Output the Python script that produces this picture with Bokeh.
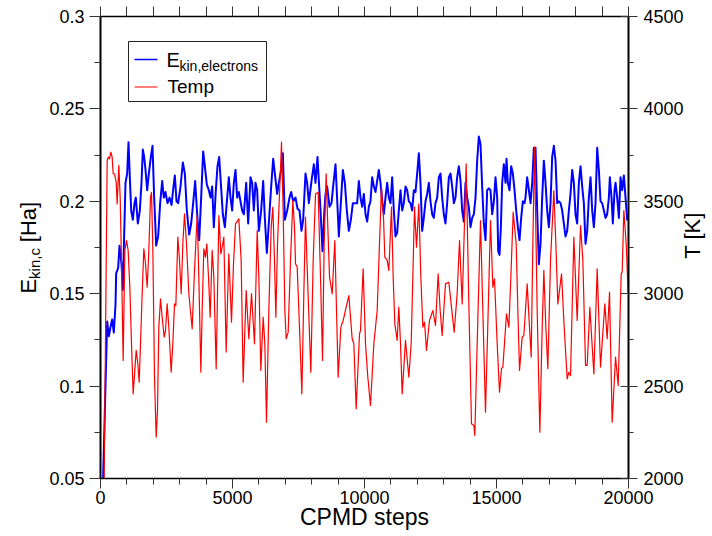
import math
from bokeh.plotting import figure
from bokeh.models import (Range1d, LinearAxis, FixedTicker, CustomJSTickFormatter,
                          Label, BoxAnnotation, Arrow)
from bokeh.embed import file_html
from bokeh.resources import INLINE

# ---------------- data ----------------
ekin_steps = [80, 253, 316, 379, 442, 505, 568, 594, 669, 720, 796, 846, 897, 947, 1010, 1061,
              1111, 1162, 1225, 1288, 1338, 1414, 1490, 1553, 1604, 1654, 1705, 1768, 1831, 1907,
              1970, 2033, 2109, 2184, 2260, 2336, 2399, 2462, 2538, 2614, 2690, 2765, 2816, 2879,
              2942, 3031, 3119, 3195, 3270, 3359, 3435, 3510, 3586, 3662, 3738, 3813, 3889, 3952,
              4028, 4104, 4167, 4230, 4293, 4369, 4432, 4495, 4558, 4634, 4710,
              4861, 4924, 4988, 5051, 5114, 5177, 5240, 5303, 5366, 5430, 5518, 5594, 5682, 5745,
              5808, 5871, 5935, 5998, 6086, 6162, 6225, 6301, 6376, 6465, 6541, 6604, 6692, 6755,
              6856, 6907, 6983, 7071, 7159, 7222, 7298, 7387, 7462, 7538, 7614, 7677, 7765, 7828,
              7892, 7993, 8081, 8144, 8220, 8271, 8334, 8410, 8473, 8523, 8586, 8675, 8750, 8826,
              8902, 8978, 9028, 9104, 9180, 9256, 9331, 9407, 9483, 9559, 9634,
              9722, 9785, 9848, 9912, 9975, 10038, 10101, 10164, 10227, 10290, 10354, 10417, 10480,
              10543, 10606, 10669, 10732, 10795, 10859, 10922, 10985, 11048, 11111, 11174, 11237,
              11300, 11364, 11427, 11490, 11553, 11616, 11679, 11742, 11805, 11869, 11932, 12007,
              12058, 12121, 12184, 12247, 12311, 12374, 12437, 12500, 12563, 12626, 12689, 12753,
              12816, 12879, 12942, 13005, 13068, 13131, 13195, 13258, 13321, 13384, 13447, 13510,
              13573, 13637, 13700, 13763, 13826, 13889, 13952, 14015, 14079, 14142, 14205, 14268,
              14331, 14394, 14457, 14520, 14584,
              14647, 14710, 14773, 14837, 14900, 14963, 15026, 15064, 15114, 15165, 15215, 15278,
              15342, 15379, 15430, 15493, 15556, 15619, 15683, 15746, 15809, 15872, 15935, 15998,
              16061, 16099, 16162, 16226, 16289, 16352, 16415, 16478, 16541, 16604, 16667, 16731,
              16794, 16857, 16920, 16983, 17046, 17109, 17173, 17236, 17299, 17362, 17425, 17488,
              17551, 17614, 17678, 17741, 17804, 17867, 17930, 17993, 18056, 18120, 18183, 18246,
              18309, 18372, 18435, 18498, 18562, 18625, 18688, 18751, 18814, 18877, 18940, 19003,
              19067, 19130, 19193, 19256, 19294, 19357, 19407, 19471, 19509, 19572, 19635, 19698,
              19761, 19824, 19887, 19951, 20000]
ekin_values = [0.040, 0.135, 0.127, 0.132, 0.136, 0.129, 0.144, 0.161, 0.164, 0.176, 0.166, 0.152,
               0.182, 0.210, 0.215, 0.232, 0.213, 0.195, 0.190, 0.199, 0.202, 0.188, 0.195, 0.210,
               0.228, 0.224, 0.217, 0.206, 0.215, 0.224, 0.230, 0.202, 0.176, 0.181, 0.199, 0.211,
               0.202, 0.205, 0.199, 0.202, 0.198, 0.208, 0.214, 0.200, 0.199, 0.208, 0.221, 0.215,
               0.195, 0.182, 0.188, 0.199, 0.211, 0.193, 0.179, 0.202, 0.227, 0.219, 0.209, 0.206,
               0.202, 0.208, 0.186, 0.206, 0.219, 0.224, 0.210, 0.193, 0.186,
               0.213, 0.202, 0.195, 0.210, 0.217, 0.202, 0.205, 0.200, 0.195, 0.193, 0.210, 0.188,
               0.213, 0.210, 0.195, 0.210, 0.206, 0.184, 0.195, 0.211, 0.191, 0.172, 0.188, 0.208,
               0.223, 0.215, 0.204, 0.210, 0.218, 0.226, 0.190, 0.195, 0.202, 0.205, 0.200, 0.202,
               0.196, 0.195, 0.184, 0.190, 0.215, 0.210, 0.199, 0.211, 0.220, 0.210, 0.224, 0.211,
               0.195, 0.173, 0.193, 0.204, 0.208, 0.197, 0.199, 0.210, 0.220, 0.197, 0.181, 0.199,
               0.217, 0.210, 0.195, 0.184, 0.190, 0.199, 0.199,
               0.199, 0.211, 0.202, 0.197, 0.204, 0.193, 0.189, 0.197, 0.200, 0.213, 0.208, 0.205,
               0.211, 0.217, 0.210, 0.200, 0.193, 0.202, 0.210, 0.202, 0.199, 0.213, 0.195, 0.181,
               0.183, 0.195, 0.206, 0.195, 0.199, 0.208, 0.206, 0.200, 0.199, 0.195, 0.206, 0.205,
               0.217, 0.226, 0.210, 0.184, 0.191, 0.200, 0.204, 0.210, 0.200, 0.193, 0.191, 0.199,
               0.202, 0.213, 0.215, 0.202, 0.193, 0.188, 0.199, 0.213, 0.215, 0.208, 0.199, 0.202,
               0.213, 0.219, 0.211, 0.195, 0.189, 0.210, 0.202, 0.197, 0.186, 0.191, 0.193, 0.202,
               0.222, 0.235, 0.231, 0.208, 0.188, 0.179,
               0.206, 0.207, 0.206, 0.193, 0.200, 0.213, 0.202, 0.173, 0.171, 0.186, 0.210, 0.220,
               0.210, 0.223, 0.210, 0.206, 0.219, 0.215, 0.206, 0.195, 0.186, 0.179, 0.191, 0.200,
               0.199, 0.202, 0.213, 0.206, 0.199, 0.210, 0.229, 0.229, 0.195, 0.166, 0.177, 0.202,
               0.222, 0.210, 0.195, 0.186, 0.199, 0.224, 0.230, 0.222, 0.199, 0.200, 0.199, 0.195,
               0.188, 0.181, 0.184, 0.195, 0.204, 0.217, 0.210, 0.193, 0.188, 0.210, 0.219, 0.208,
               0.199, 0.177, 0.184, 0.202, 0.213, 0.195, 0.186, 0.199, 0.229, 0.217, 0.200, 0.199,
               0.195, 0.191, 0.193, 0.202, 0.213, 0.202, 0.188, 0.206, 0.210, 0.202, 0.191, 0.213,
               0.206, 0.214, 0.202, 0.190, 0.190]

temp_steps = [120, 253, 290, 341, 391, 442, 480, 530, 594, 631, 694, 745, 796, 859, 922, 985, 1048,
              1111, 1174, 1237, 1300, 1351, 1414, 1465, 1515, 1578, 1642, 1705, 1768, 1831, 1894,
              1932, 1983, 2046, 2109, 2159, 2210, 2273, 2336, 2412, 2462, 2525, 2588, 2677, 2740,
              2803, 2854, 2929, 2993, 3056, 3119, 3182, 3258, 3346, 3472, 3561, 3662, 3725, 3801,
              3851, 3914, 3977, 4028, 4091, 4154, 4230, 4293, 4382, 4432, 4483, 4558, 4609, 4672,
              4760, 4861, 4962, 5038, 5114, 5240, 5328, 5404, 5518, 5619, 5720, 5834, 5935, 5998,
              6073, 6162, 6225, 6288, 6376, 6465, 6528, 6591, 6642, 6705, 6755, 6806, 6856, 6919,
              6983, 7033, 7109, 7197, 7286, 7349, 7387, 7450, 7538, 7627, 7702, 7765, 7841, 7967,
              8056, 8144, 8245, 8334, 8410, 8473, 8548, 8611, 8675, 8776, 8876, 8940, 9003, 9104,
              9192, 9306, 9407, 9533, 9596, 9685, 9811, 9848, 9949, 10038, 10126, 10227, 10354,
              10480, 10568, 10644, 10720, 10770, 10859, 10922, 11023, 11086, 11149, 11237, 11300,
              11364, 11427, 11553, 11679, 11768, 11831, 11894, 11970, 12058, 12134, 12210, 12273,
              12348, 12462, 12588, 12689, 12790, 12866, 12942, 13068, 13195, 13321, 13397, 13510,
              13599, 13700, 13851, 13952, 14053, 14142, 14179, 14268, 14394, 14482, 14584, 14685,
              14773, 14862, 14925, 15026, 15114, 15190, 15241, 15379, 15468, 15544, 15632, 15746,
              15809, 15872, 15973, 16036, 16162, 16251, 16314, 16377, 16440, 16541, 16642, 16731,
              16794, 16869, 16945, 17046, 17173, 17248, 17324, 17463, 17564, 17678, 17741, 17804,
              17930, 18056, 18183, 18271, 18372, 18435, 18536, 18688, 18814, 18940, 19104, 19193,
              19281, 19382, 19509, 19610, 19723, 19761, 19824, 19913, 19988]
temp_values = [1700, 3721, 3739, 3730, 3766, 3739, 3649, 3649, 3604, 3486, 3694, 3522, 3162, 2639,
               3234, 3288, 3234, 3035, 2729, 2458, 2585, 2693, 2621, 2521, 2729, 3000, 3243, 3162,
               3035, 3234, 3522, 3549, 3234, 2548, 2224, 2368, 2819, 2972, 2873, 2765, 2801, 2945,
               2819, 2575, 2729, 2945, 2936, 3306, 3180, 3000, 3270, 3432, 3270, 3000, 2810, 3126,
               3423, 3090, 2575, 2909, 3243, 3198, 3270, 3090, 2873, 3234, 3090, 2594, 3000, 3423,
               3216, 3252, 3306,
               2684, 3216, 2846, 3162, 3378, 3405, 3180, 2521, 3017, 2756, 3000, 2729, 3342, 3090,
               2585, 2873, 2729, 2305, 2909, 3360, 3468, 3180, 2873, 3270, 3450, 3631, 3820, 3450,
               2909, 2756, 2792, 3180, 3504, 3360, 3162, 3144, 2819, 2458, 3000, 3414, 3090, 2575,
               3180, 3540, 3549, 3090, 2639, 3270, 3649, 3360, 3090, 3000, 3288, 2909, 2548, 2819,
               2855, 2927, 2990, 2756, 2729, 2377, 2783, 2801, 3135, 2729, 2548, 2395, 2729,
               2909, 3270, 3577, 3414, 3198, 3180, 3126, 3468, 3090, 2837, 2747, 2927,
               2729, 2458, 2747, 2548, 2729, 3090, 3468, 3252, 3486, 3090, 2819, 2846,
               2693, 2855, 2909, 2828, 3108, 2909, 2774, 3053, 3062, 2891, 2792, 3000,
               3288, 2945, 3703, 2945, 2296, 2287, 2233, 2729, 3396, 2909, 2359, 2909,
               3396, 3035, 3080, 2729, 2467, 2594, 2603, 2891, 2819, 3090, 3441, 3270,
               2909, 2585, 2765, 2774, 3053, 2819, 2657, 3270, 3793, 2909, 2251, 2819,
               3126, 2819, 2594, 3180, 3558, 3270, 2945, 3108, 2819, 2539, 2575, 2557,
               3306, 2855, 3369, 3180, 2612, 2612, 2927, 2566, 3135, 2603, 2945, 2756,
               3008, 2305, 2657, 2503, 3108, 3117, 3450, 3270, 3000]

x_ticks = [0, 5000, 10000, 15000, 20000]
x_minor = [1000, 2000, 3000, 4000, 6000, 7000, 8000, 9000, 11000, 12000, 13000, 14000,
           16000, 17000, 18000, 19000]
top_ticks = [0, 1000, 2000, 3000, 4000, 5000, 6000, 7000, 8000, 9000, 10000, 11000, 12000,
             13000, 14000, 15000, 16000, 17000, 18000, 19000, 20000]
e_ticks = [0.05, 0.1, 0.15, 0.2, 0.25, 0.3]
e_minor = [0.075, 0.125, 0.175, 0.225, 0.275]
t_ticks = [2000, 2500, 3000, 3500, 4000, 4500]
t_minor = [2250, 2750, 3250, 3750, 4250]

x_title = "CPMD steps"
y_title_main = "E\u2003\u2002\u2006[Ha]"
y_title_sub = "kin,c"
y2_title = "T [K]"
legend_main = ["E", "Temp"]
legend_sub = "kin,electrons"

FONT = "Liberation Sans"

p = figure(width=712, height=536, output_backend="svg", toolbar_location=None,
           x_range=Range1d(0, 20000), y_range=Range1d(0.05, 0.3),
           x_axis_location=None, y_axis_location=None,
           min_border_left=100, min_border_right=84, min_border_top=16, min_border_bottom=58)
p.extra_y_ranges = {"temp": Range1d(2000, 4500)}
p.grid.grid_line_color = None
p.outline_line_color = None
p.background_fill_color = "white"
p.border_fill_color = "white"


def style(ax, lw):
    ax.axis_line_color = "black"
    ax.axis_line_width = lw
    ax.major_tick_line_color = "#333333"
    ax.minor_tick_line_color = "#333333"
    ax.major_tick_line_width = 1
    ax.minor_tick_line_width = 1
    ax.major_label_text_font = FONT
    ax.major_label_text_font_size = "18px"
    ax.major_label_text_color = "black"


left = LinearAxis(ticker=FixedTicker(ticks=e_ticks, minor_ticks=e_minor),
                  formatter=CustomJSTickFormatter(code="return String(Number(tick.toFixed(3)))"))
style(left, 2)
left.major_tick_out = 11
left.major_tick_in = 0
left.minor_tick_out = 6
left.minor_tick_in = 0
left.major_label_standoff = 5
p.add_layout(left, "left")

right = LinearAxis(y_range_name="temp", ticker=FixedTicker(ticks=t_ticks, minor_ticks=t_minor),
                   formatter=CustomJSTickFormatter(code="return String(Math.round(tick))"))
style(right, 2)
right.major_tick_out = 9
right.major_tick_in = 8
right.minor_tick_out = 5
right.minor_tick_in = 0
right.major_label_standoff = 6
p.add_layout(right, "right")

bottom = LinearAxis(ticker=FixedTicker(ticks=x_ticks, minor_ticks=x_minor),
                    formatter=CustomJSTickFormatter(code="return String(Math.round(tick))"))
style(bottom, 1.5)
bottom.major_tick_out = 10
bottom.major_tick_in = 0
bottom.minor_tick_out = 6
bottom.minor_tick_in = 0
bottom.major_label_standoff = 2
p.add_layout(bottom, "below")

top = LinearAxis(ticker=FixedTicker(ticks=top_ticks, minor_ticks=[]),
                 formatter=CustomJSTickFormatter(code="return ''"))
style(top, 1.5)
top.major_tick_out = 10
top.major_tick_in = 0
top.minor_tick_out = 0
top.major_label_standoff = 0
top.major_label_text_font_size = "1px"
p.add_layout(top, "above")

# series
p.line(ekin_steps, ekin_values, line_color="#0000ff", line_width=2, line_join="round")
p.line(temp_steps, temp_values, line_color="#ff0000", line_width=1.2, line_join="round",
       y_range_name="temp")

# axis titles: labels placed in the side panels (so they are not clipped to the frame)
half_pi = math.pi / 2
p.add_layout(Label(x=-2500, y=0.1580, text=y_title_sub, angle=half_pi,
                   text_font=FONT, text_font_size="15px", text_align="left",
                   text_baseline="alphabetic", text_color="black"), "left")
p.add_layout(Label(x=-2727, y=0.1501, text=y_title_main, angle=half_pi,
                   text_font=FONT, text_font_size="22px", text_align="left",
                   text_baseline="alphabetic", text_color="black"), "left")
p.add_layout(Label(x=10000, y=0.0294, text=x_title,
                   text_font=FONT, text_font_size="23px", text_align="center",
                   text_baseline="alphabetic", text_color="black"), "below")
p.add_layout(Label(x=22424, y=0.1815, text=y2_title, angle=half_pi,
                   text_font=FONT, text_font_size="22px", text_align="center",
                   text_baseline="alphabetic", text_color="black"), "right")

# legend (built by hand so the subscript can be shown)
p.add_layout(BoxAnnotation(left=28, right=166, top=437, bottom=377,
                           left_units="screen", right_units="screen",
                           top_units="screen", bottom_units="screen",
                           fill_color="white", fill_alpha=1.0,
                           line_color="#222222", line_width=1, line_alpha=1.0))
p.add_layout(Arrow(x_start=34, y_start=419, x_end=57, y_end=419,
                   start_units="screen", end_units="screen", start=None, end=None,
                   line_color="#0000ff", line_width=1.5))
p.add_layout(Arrow(x_start=34, y_start=391.5, x_end=57, y_end=391.5,
                   start_units="screen", end_units="screen", start=None, end=None,
                   line_color="#ff0000", line_width=1.2))
p.add_layout(Label(x=66, y=419, x_units="screen", y_units="screen", text=legend_main[0],
                   text_font=FONT, text_font_size="20px", text_baseline="alphabetic",
                   text_color="black"))
p.add_layout(Label(x=79, y=413, x_units="screen", y_units="screen", text=legend_sub,
                   text_font=FONT, text_font_size="14px", text_baseline="alphabetic",
                   text_color="black"))
p.add_layout(Label(x=67, y=392.5, x_units="screen", y_units="screen", text=legend_main[1],
                   text_font=FONT, text_font_size="19px", text_baseline="alphabetic",
                   text_color="black"))

open("out.html", "w").write(file_html(p, INLINE))
